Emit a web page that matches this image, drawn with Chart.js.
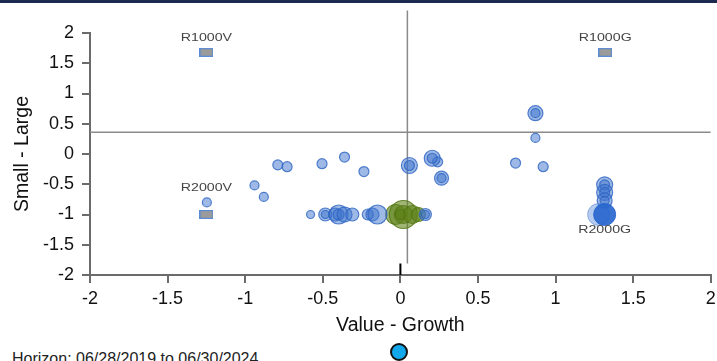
<!DOCTYPE html>
<html>
<head>
<meta charset="utf-8">
<script src="https://cdn.jsdelivr.net/npm/chart.js@4.4.1/dist/chart.umd.min.js"></script>
<style>
body { margin:0; background:#fff; font-family: Arial, "Liberation Sans", sans-serif; overflow:hidden; }
#wrap { position:relative; width:717px; height:361px; overflow:hidden; }
#topbar { position:absolute; left:0; top:0; width:717px; height:3px; background:#1b2a4e; }
#box { position:absolute; left:0; top:0; width:726px; height:340px; }
#horizon { position:absolute; left:12px; top:350px; font-size:16px; line-height:18px; color:#222; white-space:nowrap; }
#dot { position:absolute; left:390px; top:343px; width:14px; height:14px; border-radius:50%; background:#12a9ec; border:2px solid #111; }
</style>
</head>
<body>
<div id="wrap">
  <div id="box"><canvas id="grafico"></canvas></div>
  <div id="topbar"></div>
  <div id="horizon">Horizon: 06/28/2019 to 06/30/2024</div>
  <div id="dot"></div>
</div>
<script>
// ====== Datos ======
const xTicks = [-2, -1.5, -1, -0.5, 0, 0.5, 1, 1.5, 2];
const xTickLabels = ['-2', '-1.5', '-1', '-0.5', '0', '0.5', '1', '1.5', '2'];
const yTicks = [-2, -1.5, -1, -0.5, 0, 0.5, 1, 1.5, 2];
const yTickLabels = ['-2', '-1.5', '-1', '-0.5', '0', '0.5', '1', '1.5', '2'];

// managers (blue bubbles), rings are drawn as two bubbles on the same spot
const fundX = [-0.79, -0.73, -0.505, -0.36, -0.235, 0.24, -0.94, -0.88, -1.247, 0.87, 0.742, 0.92,
               0.058, 0.058, 0.205, 0.205, 0.265, 0.265, 0.87, 0.87,
               1.316, 1.316, 1.316, 1.316, 1.316, 1.316,
               -0.579, -0.484, -0.484, -0.42, -0.398, -0.398, -0.36, -0.31, -0.21, -0.18, -0.148, 0.161, 0.161];
const fundY = [-0.18, -0.21, -0.16, -0.05, -0.29, -0.13, -0.52, -0.71, -0.80, 0.265, -0.15, -0.21,
               -0.19, -0.19, -0.07, -0.07, -0.40, -0.40, 0.675, 0.675,
               -0.51, -0.51, -0.635, -0.635, -0.77, -0.77,
               -1.0, -1.0, -1.0, -1.0, -1.0, -1.0, -1.0, -1.0, -1.0, -1.0, -1.0, -1.0, -1.0];
const fundR = [5, 5, 5, 5, 5, 5, 4.5, 4.5, 4.5, 4.5, 5, 5,
               8, 5, 8, 5, 7, 4.5, 7.5, 4.5,
               8, 5, 8, 5, 7.5, 4.5,
               4, 6.5, 4, 6.5, 9.5, 5.5, 7.5, 6.5, 5.5, 6.5, 9.5, 6, 4];

// benchmark de referencia (verde)
const benchX = [-0.03, 0.019, 0.019, 0.077, 0.116, 0.0];
const benchY = [-1.0, -1.0, -1.0, -1.0, -1.0, -1.0];
const benchR = [10, 14, 9, 9, 7, 5];

// R2000G
const r2000gX = [1.277, 1.316];
const r2000gY = [-1.0, -1.0];
const r2000gR = [11, 11];

// índices (cuadrados)
const indexNames = ['R1000V', 'R1000G', 'R2000V'];
const indexX = [-1.25, 1.32, -1.25];
const indexY = [1.68, 1.68, -1.0];

// líneas de cuadrante
const quadX = 0.045;
const quadY = 0.36;

// ====== Marcador cuadrado ======
const sq = document.createElement('canvas');
sq.width = 14; sq.height = 9;
const g = sq.getContext('2d');
g.fillStyle = '#5a8bd6'; g.fillRect(0, 0, 14, 9);
g.fillStyle = '#9b9b9b'; g.fillRect(1.2, 1.2, 11.6, 6.6);

const toPts = (xs, ys, rs) => xs.map((x, i) => ({ x: x, y: ys[i], r: rs ? rs[i] : 0 }));

// ====== Etiquetas ======
const labelOffsets = { R1000V: -14, R1000G: -14, R2000V: -26, R2000G: 16 };
const etiquetas = {
  id: 'etiquetas',
  afterDatasetsDraw(chart) {
    const c = chart.ctx, sx = chart.scales.x, sy = chart.scales.y;
    const items = indexNames.map((n, i) => [n, indexX[i], indexY[i]]);
    items.push(['R2000G', r2000gX[1], r2000gY[1]]);
    c.save();
    c.fillStyle = '#444';
    c.font = '10px Arial';
    c.textAlign = 'center';
    c.textBaseline = 'middle';
    items.forEach(([n, x, y]) => {
      c.save();
      c.translate(sx.getPixelForValue(x), sy.getPixelForValue(y) + labelOffsets[n]);
      c.scale(1.42, 1);
      c.fillText(n, 0, 0);
      c.restore();
    });
    c.restore();
  }
};

const ctx = document.getElementById('grafico').getContext('2d');
new Chart(ctx, {
  type: 'bubble',
  data: {
    datasets: [
      {
        type: 'scatter',
        data: toPts(indexX, indexY),
        pointStyle: sq,
        pointRadius: 7
      },
      {
        data: toPts(r2000gX.slice(1), r2000gY.slice(1), r2000gR.slice(1)),
        backgroundColor: 'rgba(38,100,205,0.9)',
        borderColor: 'rgba(38,100,205,0.9)',
        borderWidth: 1
      },
      {
        data: toPts(r2000gX.slice(0, 1), r2000gY.slice(0, 1), r2000gR.slice(0, 1)),
        backgroundColor: 'rgba(90,140,215,0.45)',
        borderColor: 'rgba(90,140,215,0.6)',
        borderWidth: 1
      },
      {
        data: toPts(fundX, fundY, fundR),
        backgroundColor: 'rgba(62,115,205,0.5)',
        borderColor: 'rgba(45,100,195,0.8)',
        borderWidth: 1.2
      },
      {
        data: toPts(benchX, benchY, benchR),
        backgroundColor: 'rgba(95,130,25,0.6)',
        borderColor: 'rgba(85,120,20,0.85)',
        borderWidth: 1.2
      },
      {
        type: 'line',
        data: [{ x: -2, y: quadY }, { x: 2, y: quadY }],
        borderColor: '#8a8a8a', borderWidth: 1.5, pointRadius: 0
      },
      {
        type: 'line',
        data: [{ x: quadX, y: 2.37 }, { x: quadX, y: -1.81 }],
        borderColor: '#8a8a8a', borderWidth: 1.5, pointRadius: 0, clip: false
      },
      {
        type: 'line',
        data: [{ x: 0, y: -1.81 }, { x: 0, y: -2 }],
        borderColor: '#000', borderWidth: 2, pointRadius: 0
      }
    ]
  },
  options: {
    responsive: true,
    maintainAspectRatio: false,
    animation: false,
    events: [],
    layout: { padding: { top: 33, right: 7, left: 0, bottom: 0 } },
    plugins: { legend: { display: false }, tooltip: { enabled: false } },
    scales: {
      x: {
        min: -2, max: 2,
        afterFit: s => { s.height = 65; s.paddingLeft = 0; s.paddingRight = 0; },
        afterBuildTicks: s => { s.ticks = xTicks.map(v => ({ value: v })); },
        ticks: { callback: (v, i) => xTickLabels[i], color: '#111', font: { family: 'Arial', size: 18 }, padding: 5, maxRotation: 0 },
        grid: { drawOnChartArea: false, drawTicks: true, tickLength: 8, color: '#6b6b6b', lineWidth: 2 },
        border: { color: '#6b6b6b', width: 2 },
        title: { display: true, text: 'Value - Growth', color: '#111', font: { family: 'Arial', size: 19.5 }, padding: { top: 0, bottom: 3 } }
      },
      y: {
        min: -2, max: 2,
        afterFit: s => { s.width = 90; s.paddingTop = 0; s.paddingBottom = 0; },
        afterBuildTicks: s => { s.ticks = yTicks.map(v => ({ value: v })); },
        ticks: { callback: (v, i) => yTickLabels[i], color: '#111', font: { family: 'Arial', size: 18 }, padding: 8 },
        grid: { drawOnChartArea: false, drawTicks: true, tickLength: 8, color: '#6b6b6b', lineWidth: 2 },
        border: { color: '#6b6b6b', width: 2 },
        title: { display: true, text: 'Small - Large', color: '#111', font: { family: 'Arial', size: 19.5 }, padding: { top: 11, bottom: 0 } }
      }
    }
  },
  plugins: [etiquetas]
});
</script>
</body>
</html>
